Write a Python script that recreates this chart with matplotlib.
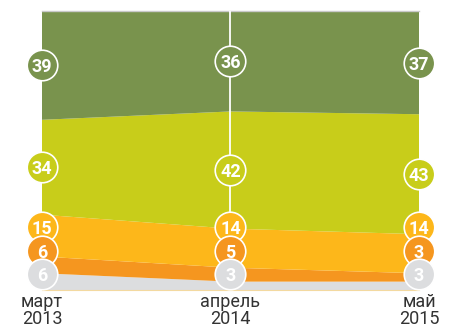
import numpy as np
import matplotlib
matplotlib.use("Agg")
import matplotlib.pyplot as plt

# share of answers (%) at three survey dates, bottom layer first
periods = ["март\n2013", "апрель\n2014", "май\n2015"]
grey = [6, 3, 3]
orange = [6, 5, 3]
amber = [15, 14, 14]
lime = [34, 42, 43]
green = [39, 36, 37]

layers = [grey, orange, amber, lime, green]
colors = ["#dcdddf", "#f5961f", "#fdb71a", "#c8cd1a", "#79934d"]

# the three thin bottom layers get their labels stacked at fixed heights
stack_y = [5.7, 14.1, 22.6]

fig = plt.figure(figsize=(4.52, 3.32), dpi=100)
ax = fig.add_axes([42 / 452, 1 - 290 / 332, (419 - 42) / 452, 279 / 332])

x = np.arange(len(periods))
ax.stackplot(x, *layers, colors=colors, linewidth=0)
ax.set_xlim(0, len(periods) - 1)
ax.set_ylim(0, 100)

# white divider through the middle date
ax.axvline(1, color="white", lw=1.3, zorder=3)

for s in ["left", "right"]:
    ax.spines[s].set_visible(False)
ax.spines["top"].set_color("#c9c9c9")
ax.spines["top"].set_linewidth(1.0)
ax.spines["bottom"].set_color("#f3d9a0")
ax.spines["bottom"].set_linewidth(0.8)

ax.set_yticks([])
ax.set_xticks(x)
ax.set_xticklabels(periods, fontsize=13, fontfamily="Roboto", color="#333333",
                   linespacing=0.95)
ax.tick_params(axis="x", length=0, pad=2)

# number badges: top layers first so the lower ones overlap them
bottoms = np.cumsum([[0] * len(x)] + layers, axis=0)
order = [4, 3, 2, 1, 0]
for k, li in enumerate(order):
    vals = layers[li]
    for i in range(len(x)):
        if li >= 3:
            yy = bottoms[li][i] + vals[i] / 2
        else:
            yy = stack_y[li]
        ax.scatter(x[i], yy, s=22 ** 2, color=colors[li], edgecolors="white",
                   linewidths=1.2, zorder=10 + k * 2, clip_on=False)
        ax.text(x[i], yy, str(vals[i]), ha="center", va="center_baseline",
                color="white", fontsize=13, fontweight="bold",
                fontfamily="Roboto", zorder=11 + k * 2, clip_on=False)

fig.savefig("out.png", dpi=100)
